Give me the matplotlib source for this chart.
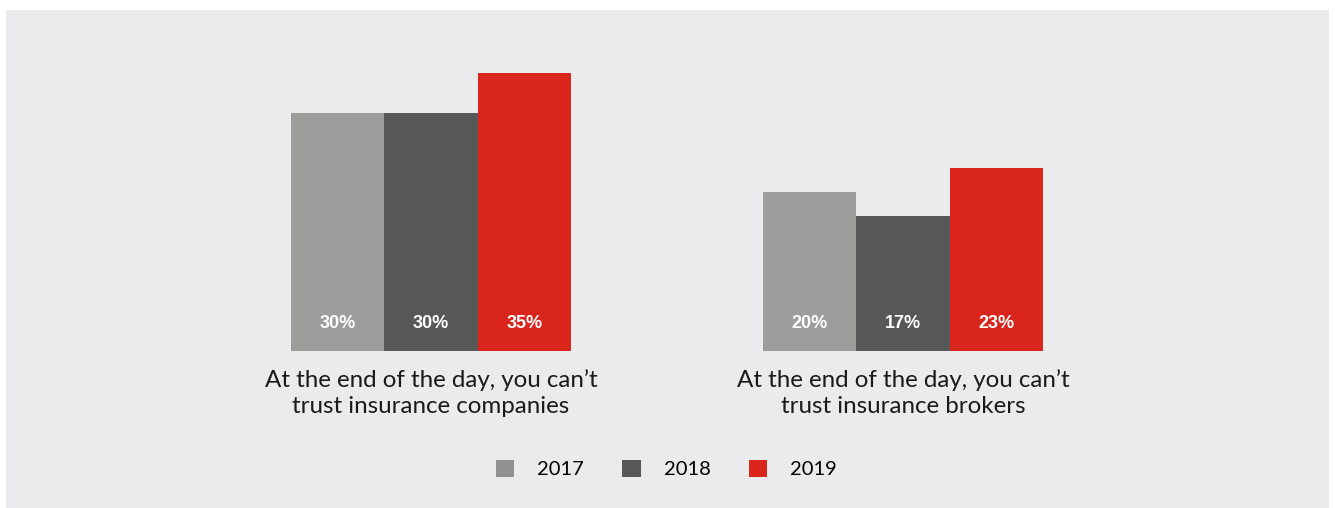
import matplotlib.pyplot as plt
from matplotlib.patches import Rectangle, Patch
import numpy as np

# Survey data (% agreeing)
statements = [
    "At the end of the day, you can\u2019t\ntrust insurance companies",
    "At the end of the day, you can\u2019t\ntrust insurance brokers",
]
years = ["2017", "2018", "2019"]
values = {
    "2017": [30, 20],
    "2018": [30, 17],
    "2019": [35, 23],
}

colors = {"2017": "#9d9d9b", "2018": "#575757", "2019": "#da251d"}
legend_colors = {"2017": "#8f9193", "2018": "#575757", "2019": "#da251d"}
panel_color = "#ebebed"

W, H = 1335, 508
fig = plt.figure(figsize=(W / 100, H / 100), dpi=100)
fig.patch.set_facecolor("white")

# light grey panel behind everything
panel = Rectangle((6 / W, 0), (1329 - 6) / W, (508 - 10) / H,
                  transform=fig.transFigure, facecolor=panel_color,
                  edgecolor="none", zorder=-10)
fig.patches.append(panel)

# axes: one bar width = 1 data unit, baseline at y=0
base_px, top_px = 351, 10
px_per_pct = 7.95
ax = fig.add_axes([6 / W, (H - base_px) / H, (1329 - 6) / W, (base_px - top_px) / H])
ax.set_zorder(2)
ax.set_facecolor("none")
ax.set_xlim(0, (1329 - 6) / 93.3)
ax.set_ylim(0, (base_px - top_px) / px_per_pct)
ax.axis("off")

group_centers = np.array([4.555, 9.614])
bar_w = 1.0
for i, yr in enumerate(years):
    xs = group_centers + (i - 1) * bar_w
    ax.bar(xs, values[yr], width=bar_w, color=colors[yr], linewidth=0)
    for x, v in zip(xs, values[yr]):
        ax.text(x, 3.5, f"{v}%", ha="center", va="center", color="white",
                fontsize=13, fontweight="bold", family="Liberation Sans")

# statement labels under each group
for x, label in zip(group_centers, statements):
    ax.text(x, -2.3, label, ha="center", va="top", fontsize=17.4,
            color="#1a1a1a", family="Lato", linespacing=1.3, clip_on=False)

handles = [Patch(facecolor=legend_colors[yr], edgecolor="none", label=yr) for yr in years]
leg = fig.legend(handles=handles, loc="center", bbox_to_anchor=(666.5 / W, 1 - 469 / H),
                 ncol=3, frameon=False, handlelength=0.9, handleheight=0.9,
                 handletextpad=1.15, columnspacing=1.9,
                 prop={"family": "Lato", "size": 14.5})
leg.set_zorder(3)

fig.savefig("out.png", dpi=100, facecolor="white")
